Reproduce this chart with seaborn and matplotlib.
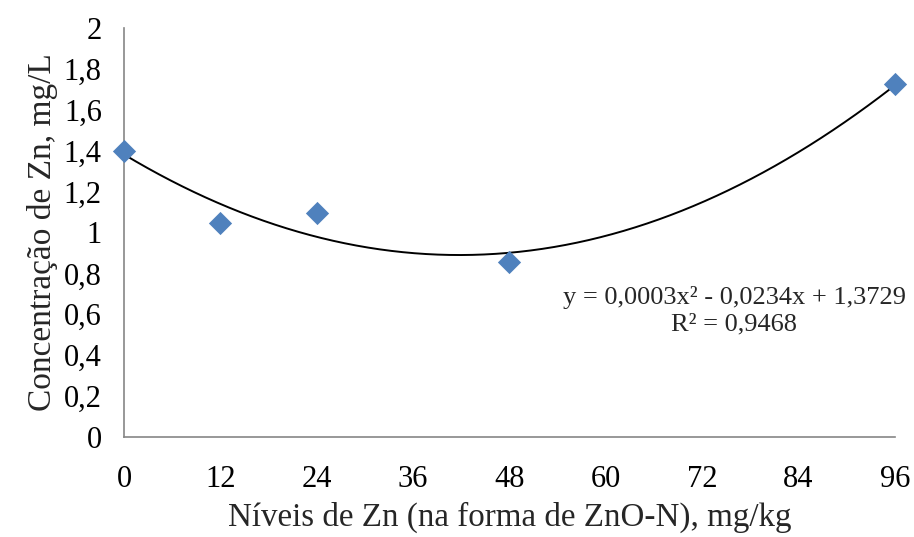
import numpy as np
import pandas as pd
import seaborn as sns
import matplotlib.pyplot as plt

# data
niveis = [0, 12, 24, 48, 96]
concentracao = [1.40, 1.045, 1.095, 0.855, 1.725]
x_ticks = [0, 12, 24, 36, 48, 60, 72, 84, 96]
y_ticks = [0, 0.2, 0.4, 0.6, 0.8, 1.0, 1.2, 1.4, 1.6, 1.8, 2.0]
y_labels = ['0', '0,2', '0,4', '0,6', '0,8', '1', '1,2', '1,4', '1,6', '1,8', '2']

df = pd.DataFrame({'x': niveis, 'y': concentracao})

sns.set_style('white')
plt.rcParams['font.family'] = ['Liberation Serif', 'DejaVu Serif']

fig = plt.figure(figsize=(9.14, 5.37), dpi=100)
ax = fig.add_axes([0.1357, 0.1862, 0.979 - 0.1357, 0.9479 - 0.1862])

# polynomial trendline (2nd order)
coef = np.polyfit(df['x'], df['y'], 2)
xs = np.linspace(0, 96, 200)
sns.lineplot(x=xs, y=np.polyval(coef, xs), color='black', linewidth=1.4, ax=ax)

sns.scatterplot(data=df, x='x', y='y', marker='D', s=140, color='#4F81BD',
                edgecolor='#4F81BD', linewidth=0, ax=ax, zorder=3, clip_on=False)

ax.set_xlim(0, 96)
ax.set_ylim(0, 2)
ax.set_xticks(x_ticks)
ax.set_xticklabels([str(t) for t in x_ticks])
ax.set_yticks(y_ticks)
ax.set_yticklabels(y_labels)

for s in ['top', 'right']:
    ax.spines[s].set_visible(False)
for s in ['left', 'bottom']:
    ax.spines[s].set_color('#868686')
    ax.spines[s].set_linewidth(1.2)
ax.tick_params(axis='both', which='major', direction='out', length=6, width=1.2,
               color='#868686', labelsize=22, labelcolor='black', pad=10)
ax.tick_params(axis='x', pad=14)

ax.set_xlabel('Níveis de Zn (na forma de ZnO-N), mg/kg', fontsize=23.8, labelpad=6)
ax.set_ylabel('Concentração de Zn, mg/L', fontsize=24, labelpad=4)

ax.text(0.792, 0.37, 'y = 0,0003x² - 0,0234x + 1,3729\nR² = 0,9468',
        transform=ax.transAxes, ha='center', va='top', fontsize=19,
        linespacing=1.3, multialignment='center')

fig.savefig('out.png', dpi=100)
